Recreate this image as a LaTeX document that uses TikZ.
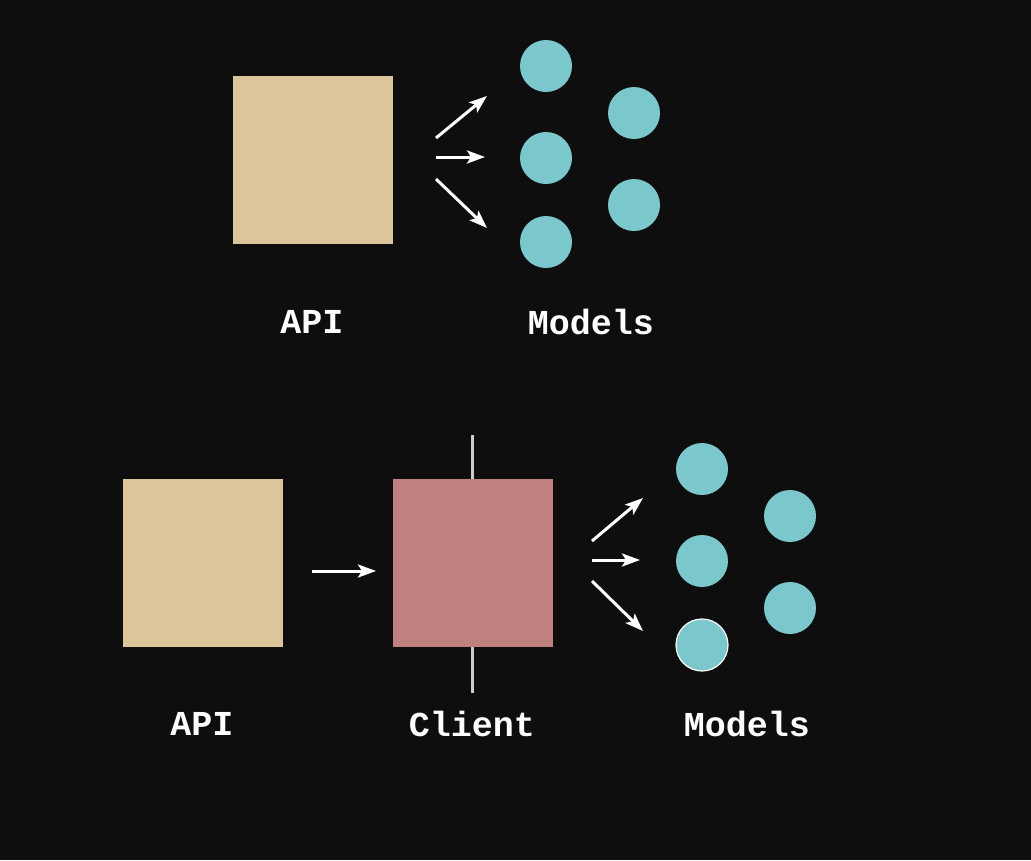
\documentclass[tikz,border=0pt]{standalone}
\usepackage{fontspec}
\setmonofont{Liberation Mono}
\usetikzlibrary{arrows.meta}
\definecolor{bg}{HTML}{0E0E0E}
\definecolor{tan}{HTML}{DCC699}
\definecolor{rose}{HTML}{C08080}
\definecolor{teal}{HTML}{7AC8CC}
\definecolor{rod}{HTML}{CCCCCC}
\tikzset{
  box/.style={rectangle, draw=none, minimum width=160pt, minimum height=168pt, inner sep=0pt},
  model/.style={circle, fill=teal, draw=none, minimum size=52pt, inner sep=0pt},
  lbl/.style={text=white, font=\ttfamily\bfseries\fontsize{35}{42}\selectfont, inner sep=0pt},
  arr/.style={draw=white, line width=3pt, -{Stealth[length=18pt, width=13pt, inset=4pt]}},
}
\begin{document}
\begin{tikzpicture}[x=1pt, y=-1pt]
\fill[bg] (0,0) rectangle (1031,860);
\useasboundingbox (0,0) rectangle (1031,860);
% top
\node[box, fill=tan] (api1) at (313,160) {};
\node[model] (m1a) at (546,66) {};
\node[model] (m1b) at (546,158) {};
\node[model] (m1c) at (546,242) {};
\node[model] (m1d) at (634,113) {};
\node[model] (m1e) at (634,205) {};
\coordinate (t1s) at (436,138); \coordinate (t1e) at (487,96);
\coordinate (t2s) at (436,157); \coordinate (t2e) at (485,157);
\coordinate (t3s) at (436,179); \coordinate (t3e) at (487,228);
\draw[arr] (t1s) -- (t1e);
\draw[arr] (t2s) -- (t2e);
\draw[arr] (t3s) -- (t3e);
\node[lbl] (lapi1) at (312,322) {API};
\node[lbl] (lmod1) at (591,322) {Models};
% bottom
\node[box, fill=tan] (api2) at (203,563) {};
\coordinate (rodtop) at (472,435); \coordinate (rodbot) at (472,693);
\draw[rod, line width=3pt] (rodtop) -- (rodbot);
\node[box, fill=rose] (client) at (473,563) {};
\coordinate (c1s) at (312,571); \coordinate (c1e) at (376,571);
\draw[arr] (c1s) -- (c1e);
\node[model] (m2a) at (702,469) {};
\node[model] (m2b) at (702,561) {};
\node[model, draw=white, line width=1.2pt] (m2c) at (702,645) {};
\node[model] (m2d) at (790,516) {};
\node[model] (m2e) at (790,608) {};
\coordinate (b1s) at (592,541); \coordinate (b1e) at (643,498);
\coordinate (b2s) at (592,560); \coordinate (b2e) at (640,560);
\coordinate (b3s) at (592,581); \coordinate (b3e) at (643,631);
\draw[arr] (b1s) -- (b1e);
\draw[arr] (b2s) -- (b2e);
\draw[arr] (b3s) -- (b3e);
\node[lbl] (lapi2) at (202,724) {API};
\node[lbl] (lcli) at (472,724) {Client};
\node[lbl] (lmod2) at (747,724) {Models};
\end{tikzpicture}
\end{document}
